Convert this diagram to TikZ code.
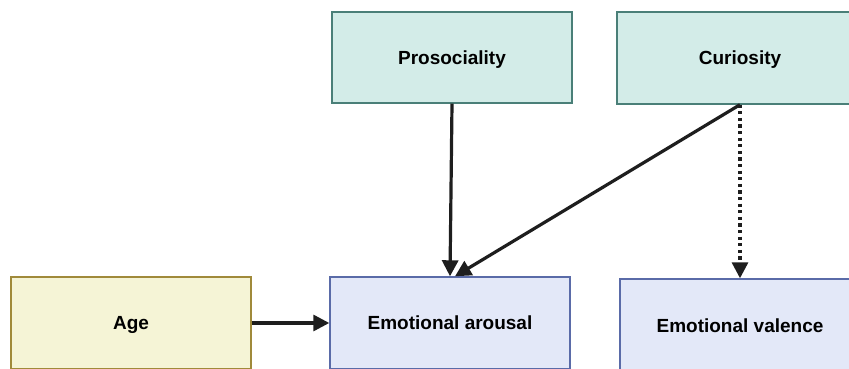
\documentclass[tikz,border=0pt]{standalone}
\usepackage{fontspec}
\setmainfont{Liberation Sans}
\usetikzlibrary{arrows.meta,calc}
\definecolor{tealfill}{HTML}{D3ECE8}
\definecolor{tealline}{HTML}{4A7F78}
\definecolor{agefill}{HTML}{F5F4D6}
\definecolor{ageline}{HTML}{A08A3A}
\definecolor{bluefill}{HTML}{E3E8F8}
\definecolor{blueline}{HTML}{5A6BA8}
\definecolor{arrowcol}{HTML}{1E1E1E}
\tikzset{
  box/.style={draw, line width=1.4pt, minimum width=240pt, inner sep=0pt, text height=13.6pt, text depth=0pt, font=\bfseries\fontsize{19}{22}\selectfont},
  tealbox/.style={box, fill=tealfill, draw=tealline},
  agebox/.style={box, fill=agefill, draw=ageline},
  bluebox/.style={box, fill=bluefill, draw=blueline},
  conn/.style={draw=arrowcol, line width=3.2pt, -{Triangle[length=16pt,width=16pt]}, shorten >=0pt},
  dotconn/.style={conn, dash pattern=on 3.2pt off 3.4pt}
}
\begin{document}
\begin{tikzpicture}[x=1pt,y=1pt]
\useasboundingbox (0,0) rectangle (849,369);
\clip (0,0) rectangle (849,369);
\node[tealbox, minimum height=91pt] (pro) at (452,311.5) {Prosociality};
\node[tealbox, minimum width=246pt, minimum height=92pt] (cur) at (740,311) {Curiosity};
\node[agebox, minimum height=92pt] (age) at (131,46) {Age};
\node[bluebox, minimum height=92pt] (aro) at (450,46) {Emotional arousal};
\node[bluebox, minimum height=94pt] (val) at (740,43) {Emotional valence};
\draw[conn] (pro.south) -- (aro.north);
\draw[conn] (cur.south) -- ([xshift=5pt]aro.north);
\draw[dotconn] (cur.south) -- (val.north);
\draw[conn] (age.east) -- (aro.west);
\end{tikzpicture}
\end{document}
